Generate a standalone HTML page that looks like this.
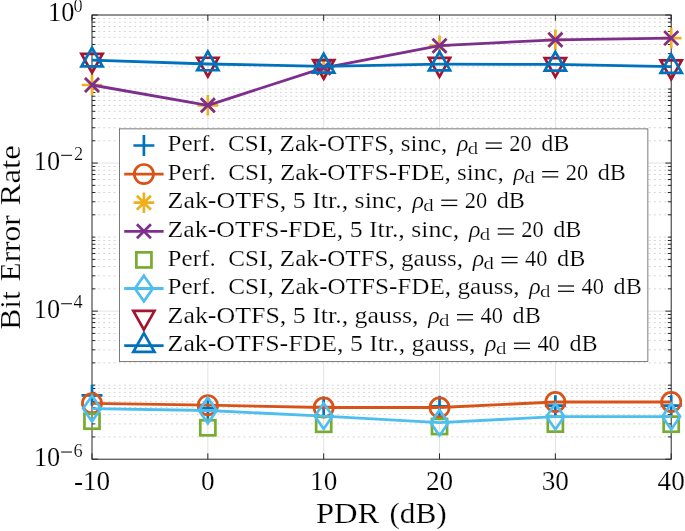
<!DOCTYPE html><html><head><meta charset="utf-8"><style>html,body{margin:0;padding:0;background:#fff;overflow:hidden;}svg{display:block;will-change:transform;}text{font-family:"Liberation Serif",serif;fill:#000;stroke:#fff;stroke-width:0.2px;paint-order:fill stroke;}</style></head><body>
<svg width="685" height="531" viewBox="0 0 685 531">
<rect width="685" height="531" fill="#fff"/>
<g stroke="#d2d2d2" stroke-width="1" stroke-dasharray="1.8 3.395">
<line x1="98.1" y1="436.91" x2="671.2" y2="436.91"/>
<line x1="98.1" y1="423.88" x2="671.2" y2="423.88"/>
<line x1="98.1" y1="414.63" x2="671.2" y2="414.63"/>
<line x1="98.1" y1="407.45" x2="671.2" y2="407.45"/>
<line x1="98.1" y1="401.59" x2="671.2" y2="401.59"/>
<line x1="98.1" y1="396.63" x2="671.2" y2="396.63"/>
<line x1="98.1" y1="392.34" x2="671.2" y2="392.34"/>
<line x1="98.1" y1="388.55" x2="671.2" y2="388.55"/>
<line x1="98.1" y1="362.88" x2="671.2" y2="362.88"/>
<line x1="98.1" y1="349.84" x2="671.2" y2="349.84"/>
<line x1="98.1" y1="340.59" x2="671.2" y2="340.59"/>
<line x1="98.1" y1="333.42" x2="671.2" y2="333.42"/>
<line x1="98.1" y1="327.56" x2="671.2" y2="327.56"/>
<line x1="98.1" y1="322.6" x2="671.2" y2="322.6"/>
<line x1="98.1" y1="318.31" x2="671.2" y2="318.31"/>
<line x1="98.1" y1="314.52" x2="671.2" y2="314.52"/>
<line x1="98.1" y1="385.17" x2="671.2" y2="385.17"/>
<line x1="98.1" y1="288.85" x2="671.2" y2="288.85"/>
<line x1="98.1" y1="275.81" x2="671.2" y2="275.81"/>
<line x1="98.1" y1="266.56" x2="671.2" y2="266.56"/>
<line x1="98.1" y1="259.39" x2="671.2" y2="259.39"/>
<line x1="98.1" y1="253.52" x2="671.2" y2="253.52"/>
<line x1="98.1" y1="248.57" x2="671.2" y2="248.57"/>
<line x1="98.1" y1="244.27" x2="671.2" y2="244.27"/>
<line x1="98.1" y1="240.49" x2="671.2" y2="240.49"/>
<line x1="98.1" y1="214.81" x2="671.2" y2="214.81"/>
<line x1="98.1" y1="201.78" x2="671.2" y2="201.78"/>
<line x1="98.1" y1="192.53" x2="671.2" y2="192.53"/>
<line x1="98.1" y1="185.35" x2="671.2" y2="185.35"/>
<line x1="98.1" y1="179.49" x2="671.2" y2="179.49"/>
<line x1="98.1" y1="174.53" x2="671.2" y2="174.53"/>
<line x1="98.1" y1="170.24" x2="671.2" y2="170.24"/>
<line x1="98.1" y1="166.45" x2="671.2" y2="166.45"/>
<line x1="98.1" y1="237.1" x2="671.2" y2="237.1"/>
<line x1="98.1" y1="140.78" x2="671.2" y2="140.78"/>
<line x1="98.1" y1="127.74" x2="671.2" y2="127.74"/>
<line x1="98.1" y1="118.49" x2="671.2" y2="118.49"/>
<line x1="98.1" y1="111.32" x2="671.2" y2="111.32"/>
<line x1="98.1" y1="105.46" x2="671.2" y2="105.46"/>
<line x1="98.1" y1="100.5" x2="671.2" y2="100.5"/>
<line x1="98.1" y1="96.21" x2="671.2" y2="96.21"/>
<line x1="98.1" y1="92.42" x2="671.2" y2="92.42"/>
<line x1="98.1" y1="66.75" x2="671.2" y2="66.75"/>
<line x1="98.1" y1="53.71" x2="671.2" y2="53.71"/>
<line x1="98.1" y1="44.46" x2="671.2" y2="44.46"/>
<line x1="98.1" y1="37.29" x2="671.2" y2="37.29"/>
<line x1="98.1" y1="31.42" x2="671.2" y2="31.42"/>
<line x1="98.1" y1="26.47" x2="671.2" y2="26.47"/>
<line x1="98.1" y1="22.17" x2="671.2" y2="22.17"/>
<line x1="98.1" y1="18.39" x2="671.2" y2="18.39"/>
<line x1="98.1" y1="89.03" x2="671.2" y2="89.03"/>
</g>
<g stroke="#e3e3e3" stroke-width="1">
<line x1="207.84" y1="15" x2="207.84" y2="459.2"/>
<line x1="323.68" y1="15" x2="323.68" y2="459.2"/>
<line x1="439.52" y1="15" x2="439.52" y2="459.2"/>
<line x1="555.36" y1="15" x2="555.36" y2="459.2"/>
<line x1="92" y1="163.07" x2="671.2" y2="163.07"/>
<line x1="92" y1="311.13" x2="671.2" y2="311.13"/>
</g>
<g stroke="#262626" stroke-width="1" fill="none">
<path d="M92 459.2V453.4M92 15V20.8M207.84 459.2V453.4M207.84 15V20.8M323.68 459.2V453.4M323.68 15V20.8M439.52 459.2V453.4M439.52 15V20.8M555.36 459.2V453.4M555.36 15V20.8M671.2 459.2V453.4M671.2 15V20.8M92 15H97.8M671.2 15H665.4M92 163.07H97.8M671.2 163.07H665.4M92 311.13H97.8M671.2 311.13H665.4M92 459.2H97.8M671.2 459.2H665.4M92 436.91H95.4M671.2 436.91H667.8M92 423.88H95.4M671.2 423.88H667.8M92 414.63H95.4M671.2 414.63H667.8M92 407.45H95.4M671.2 407.45H667.8M92 401.59H95.4M671.2 401.59H667.8M92 396.63H95.4M671.2 396.63H667.8M92 392.34H95.4M671.2 392.34H667.8M92 388.55H95.4M671.2 388.55H667.8M92 362.88H95.4M671.2 362.88H667.8M92 349.84H95.4M671.2 349.84H667.8M92 340.59H95.4M671.2 340.59H667.8M92 333.42H95.4M671.2 333.42H667.8M92 327.56H95.4M671.2 327.56H667.8M92 322.6H95.4M671.2 322.6H667.8M92 318.31H95.4M671.2 318.31H667.8M92 314.52H95.4M671.2 314.52H667.8M92 385.17H95.4M671.2 385.17H667.8M92 288.85H95.4M671.2 288.85H667.8M92 275.81H95.4M671.2 275.81H667.8M92 266.56H95.4M671.2 266.56H667.8M92 259.39H95.4M671.2 259.39H667.8M92 253.52H95.4M671.2 253.52H667.8M92 248.57H95.4M671.2 248.57H667.8M92 244.27H95.4M671.2 244.27H667.8M92 240.49H95.4M671.2 240.49H667.8M92 214.81H95.4M671.2 214.81H667.8M92 201.78H95.4M671.2 201.78H667.8M92 192.53H95.4M671.2 192.53H667.8M92 185.35H95.4M671.2 185.35H667.8M92 179.49H95.4M671.2 179.49H667.8M92 174.53H95.4M671.2 174.53H667.8M92 170.24H95.4M671.2 170.24H667.8M92 166.45H95.4M671.2 166.45H667.8M92 237.1H95.4M671.2 237.1H667.8M92 140.78H95.4M671.2 140.78H667.8M92 127.74H95.4M671.2 127.74H667.8M92 118.49H95.4M671.2 118.49H667.8M92 111.32H95.4M671.2 111.32H667.8M92 105.46H95.4M671.2 105.46H667.8M92 100.5H95.4M671.2 100.5H667.8M92 96.21H95.4M671.2 96.21H667.8M92 92.42H95.4M671.2 92.42H667.8M92 66.75H95.4M671.2 66.75H667.8M92 53.71H95.4M671.2 53.71H667.8M92 44.46H95.4M671.2 44.46H667.8M92 37.29H95.4M671.2 37.29H667.8M92 31.42H95.4M671.2 31.42H667.8M92 26.47H95.4M671.2 26.47H667.8M92 22.17H95.4M671.2 22.17H667.8M92 18.39H95.4M671.2 18.39H667.8M92 89.03H95.4M671.2 89.03H667.8"/>
<rect x="92" y="15" width="579.2" height="444.2"/>
</g>
<path d="M81.5 395.3H102.5M92 384.8V405.8" stroke="#0072BD" stroke-width="2.7" fill="none"/>
<path d="M197.34 408.2H218.34M207.84 397.7V418.7" stroke="#0072BD" stroke-width="2.7" fill="none"/>
<path d="M313.18 407H334.18M323.68 396.5V417.5" stroke="#0072BD" stroke-width="2.7" fill="none"/>
<path d="M429.02 406.3H450.02M439.52 395.8V416.8" stroke="#0072BD" stroke-width="2.7" fill="none"/>
<path d="M544.86 405.7H565.86M555.36 395.2V416.2" stroke="#0072BD" stroke-width="2.7" fill="none"/>
<path d="M660.7 405.7H681.7M671.2 395.2V416.2" stroke="#0072BD" stroke-width="2.7" fill="none"/>
<polyline points="92,403.3 207.84,405.2 323.68,407.5 439.52,407.5 555.36,402 671.2,402" stroke="#D95319" stroke-width="2.8" fill="none" stroke-linejoin="round"/>
<circle cx="92" cy="403.3" r="9.6" stroke="#D95319" stroke-width="2.7" fill="none"/>
<circle cx="207.84" cy="405.2" r="9.6" stroke="#D95319" stroke-width="2.7" fill="none"/>
<circle cx="323.68" cy="407.5" r="9.6" stroke="#D95319" stroke-width="2.7" fill="none"/>
<circle cx="439.52" cy="407.5" r="9.6" stroke="#D95319" stroke-width="2.7" fill="none"/>
<circle cx="555.36" cy="402" r="9.6" stroke="#D95319" stroke-width="2.7" fill="none"/>
<circle cx="671.2" cy="402" r="9.6" stroke="#D95319" stroke-width="2.7" fill="none"/>
<path d="M81.7 85H102.3M92 74.7V95.3M85 78L99 92M85 92L99 78" stroke="#EDB120" stroke-width="2.7" fill="none"/>
<path d="M197.54 105.3H218.14M207.84 95V115.6M200.84 98.3L214.84 112.3M200.84 112.3L214.84 98.3" stroke="#EDB120" stroke-width="2.7" fill="none"/>
<path d="M313.38 67.8H333.98M323.68 57.5V78.1M316.68 60.8L330.68 74.8M316.68 74.8L330.68 60.8" stroke="#EDB120" stroke-width="2.7" fill="none"/>
<path d="M429.22 45.7H449.82M439.52 35.4V56M432.52 38.7L446.52 52.7M432.52 52.7L446.52 38.7" stroke="#EDB120" stroke-width="2.7" fill="none"/>
<path d="M545.06 39.8H565.66M555.36 29.5V50.1M548.36 32.8L562.36 46.8M548.36 46.8L562.36 32.8" stroke="#EDB120" stroke-width="2.7" fill="none"/>
<path d="M660.9 38.1H681.5M671.2 27.8V48.4M664.2 31.1L678.2 45.1M664.2 45.1L678.2 31.1" stroke="#EDB120" stroke-width="2.7" fill="none"/>
<polyline points="92,85 207.84,105.3 323.68,67.8 439.52,45.7 555.36,39.8 671.2,38.1" stroke="#7E2F8E" stroke-width="2.8" fill="none" stroke-linejoin="round"/>
<path d="M85 78L99 92M85 92L99 78" stroke="#7E2F8E" stroke-width="2.7" fill="none"/>
<path d="M200.84 98.3L214.84 112.3M200.84 112.3L214.84 98.3" stroke="#7E2F8E" stroke-width="2.7" fill="none"/>
<path d="M316.68 60.8L330.68 74.8M316.68 74.8L330.68 60.8" stroke="#7E2F8E" stroke-width="2.7" fill="none"/>
<path d="M432.52 38.7L446.52 52.7M432.52 52.7L446.52 38.7" stroke="#7E2F8E" stroke-width="2.7" fill="none"/>
<path d="M548.36 32.8L562.36 46.8M548.36 46.8L562.36 32.8" stroke="#7E2F8E" stroke-width="2.7" fill="none"/>
<path d="M664.2 31.1L678.2 45.1M664.2 45.1L678.2 31.1" stroke="#7E2F8E" stroke-width="2.7" fill="none"/>
<rect x="84.45" y="413.65" width="15.1" height="15.1" stroke="#77AC30" stroke-width="2.7" fill="none"/>
<rect x="200.29" y="420.25" width="15.1" height="15.1" stroke="#77AC30" stroke-width="2.7" fill="none"/>
<rect x="316.13" y="416.75" width="15.1" height="15.1" stroke="#77AC30" stroke-width="2.7" fill="none"/>
<rect x="431.97" y="418.95" width="15.1" height="15.1" stroke="#77AC30" stroke-width="2.7" fill="none"/>
<rect x="547.81" y="416.55" width="15.1" height="15.1" stroke="#77AC30" stroke-width="2.7" fill="none"/>
<rect x="663.65" y="416.65" width="15.1" height="15.1" stroke="#77AC30" stroke-width="2.7" fill="none"/>
<polyline points="92,408.6 207.84,410.5 323.68,416.1 439.52,422.7 555.36,416.6 671.2,416.6" stroke="#4DBEEE" stroke-width="2.8" fill="none" stroke-linejoin="round"/>
<path d="M92 395.8L100.9 408.6L92 421.4L83.1 408.6Z" stroke="#4DBEEE" stroke-width="2.7" fill="none" stroke-miterlimit="10"/>
<path d="M207.84 397.7L216.74 410.5L207.84 423.3L198.94 410.5Z" stroke="#4DBEEE" stroke-width="2.7" fill="none" stroke-miterlimit="10"/>
<path d="M323.68 403.3L332.58 416.1L323.68 428.9L314.78 416.1Z" stroke="#4DBEEE" stroke-width="2.7" fill="none" stroke-miterlimit="10"/>
<path d="M439.52 409.9L448.42 422.7L439.52 435.5L430.62 422.7Z" stroke="#4DBEEE" stroke-width="2.7" fill="none" stroke-miterlimit="10"/>
<path d="M555.36 403.8L564.26 416.6L555.36 429.4L546.46 416.6Z" stroke="#4DBEEE" stroke-width="2.7" fill="none" stroke-miterlimit="10"/>
<path d="M671.2 403.8L680.1 416.6L671.2 429.4L662.3 416.6Z" stroke="#4DBEEE" stroke-width="2.7" fill="none" stroke-miterlimit="10"/>
<path d="M92 72.73L102.6 53.93L81.4 53.93Z" stroke="#A2142F" stroke-width="2.7" fill="none" stroke-miterlimit="10"/>
<path d="M207.84 76.53L218.44 57.73L197.24 57.73Z" stroke="#A2142F" stroke-width="2.7" fill="none" stroke-miterlimit="10"/>
<path d="M323.68 78.83L334.28 60.03L313.08 60.03Z" stroke="#A2142F" stroke-width="2.7" fill="none" stroke-miterlimit="10"/>
<path d="M439.52 76.63L450.12 57.83L428.92 57.83Z" stroke="#A2142F" stroke-width="2.7" fill="none" stroke-miterlimit="10"/>
<path d="M555.36 76.93L565.96 58.13L544.76 58.13Z" stroke="#A2142F" stroke-width="2.7" fill="none" stroke-miterlimit="10"/>
<path d="M671.2 79.23L681.8 60.43L660.6 60.43Z" stroke="#A2142F" stroke-width="2.7" fill="none" stroke-miterlimit="10"/>
<polyline points="92,60.2 207.84,64 323.68,66.3 439.52,64.1 555.36,64.4 671.2,66.7" stroke="#0072BD" stroke-width="2.8" fill="none" stroke-linejoin="round"/>
<path d="M92 47.67L102.6 66.47L81.4 66.47Z" stroke="#0072BD" stroke-width="2.7" fill="none" stroke-miterlimit="10"/>
<path d="M207.84 51.47L218.44 70.27L197.24 70.27Z" stroke="#0072BD" stroke-width="2.7" fill="none" stroke-miterlimit="10"/>
<path d="M323.68 53.77L334.28 72.57L313.08 72.57Z" stroke="#0072BD" stroke-width="2.7" fill="none" stroke-miterlimit="10"/>
<path d="M439.52 51.57L450.12 70.37L428.92 70.37Z" stroke="#0072BD" stroke-width="2.7" fill="none" stroke-miterlimit="10"/>
<path d="M555.36 51.87L565.96 70.67L544.76 70.67Z" stroke="#0072BD" stroke-width="2.7" fill="none" stroke-miterlimit="10"/>
<path d="M671.2 54.17L681.8 72.97L660.6 72.97Z" stroke="#0072BD" stroke-width="2.7" fill="none" stroke-miterlimit="10"/>
<text x="92" y="489.6" font-size="27.2" text-anchor="middle">-10</text>
<text x="207.84" y="489.6" font-size="27.2" text-anchor="middle">0</text>
<text x="323.68" y="489.6" font-size="27.2" text-anchor="middle">10</text>
<text x="439.52" y="489.6" font-size="27.2" text-anchor="middle">20</text>
<text x="555.36" y="489.6" font-size="27.2" text-anchor="middle">30</text>
<text x="671.2" y="489.6" font-size="27.2" text-anchor="middle">40</text>
<text x="48.1" y="21.2" font-size="27.2" textLength="26.3" lengthAdjust="spacingAndGlyphs">10</text>
<text x="73.6" y="12.1" font-size="18.3">0</text>
<text x="33.8" y="169.5" font-size="27.2" textLength="26.3" lengthAdjust="spacingAndGlyphs">10</text>
<rect x="61.1" y="154.8" width="10.9" height="1.05" fill="#111"/>
<text x="74.1" y="159.8" font-size="18.3">2</text>
<text x="33.8" y="317.9" font-size="27.2" textLength="26.3" lengthAdjust="spacingAndGlyphs">10</text>
<rect x="61.1" y="303.2" width="10.9" height="1.05" fill="#111"/>
<text x="73.6" y="308.4" font-size="18.3">4</text>
<text x="33.9" y="466.2" font-size="27.2" textLength="26.3" lengthAdjust="spacingAndGlyphs">10</text>
<rect x="61.1" y="451.5" width="10.9" height="1.05" fill="#111"/>
<text x="73.6" y="456.5" font-size="18.3">6</text>
<text x="315.9" y="523.4" font-size="29" textLength="63.4" lengthAdjust="spacingAndGlyphs">PDR</text>
<text x="389.4" y="523.4" font-size="29" textLength="57.4" lengthAdjust="spacingAndGlyphs">(dB)</text>
<text transform="translate(20.3 329.8) rotate(-90)" font-size="30" textLength="38.7" lengthAdjust="spacingAndGlyphs">Bit</text>
<text transform="translate(20.3 281.5) rotate(-90)" font-size="30" textLength="66.2" lengthAdjust="spacingAndGlyphs">Error</text>
<text transform="translate(20.3 205.4) rotate(-90)" font-size="30" textLength="60.1" lengthAdjust="spacingAndGlyphs">Rate</text>
<rect x="119.6" y="128.9" width="528.3" height="232.6" fill="#fff" stroke="#262626" stroke-width="0.6"/>
<path d="M133.4 145.5H154.4M143.9 135V156" stroke="#0072BD" stroke-width="2.7" fill="none"/>
<line x1="124.2" y1="174.1" x2="163.6" y2="174.1" stroke="#D95319" stroke-width="2.8"/>
<circle cx="143.9" cy="174.1" r="9.6" stroke="#D95319" stroke-width="2.7" fill="none"/>
<path d="M133.6 202.7H154.2M143.9 192.4V213M136.9 195.7L150.9 209.7M136.9 209.7L150.9 195.7" stroke="#EDB120" stroke-width="2.7" fill="none"/>
<line x1="124.2" y1="231.3" x2="163.6" y2="231.3" stroke="#7E2F8E" stroke-width="2.8"/>
<path d="M136.9 224.3L150.9 238.3M136.9 238.3L150.9 224.3" stroke="#7E2F8E" stroke-width="2.7" fill="none"/>
<rect x="136.35" y="252.35" width="15.1" height="15.1" stroke="#77AC30" stroke-width="2.7" fill="none"/>
<line x1="124.2" y1="288.5" x2="163.6" y2="288.5" stroke="#4DBEEE" stroke-width="2.8"/>
<path d="M143.9 275.7L152.8 288.5L143.9 301.3L135 288.5Z" stroke="#4DBEEE" stroke-width="2.7" fill="none" stroke-miterlimit="10"/>
<path d="M143.9 329.63L154.5 310.83L133.3 310.83Z" stroke="#A2142F" stroke-width="2.7" fill="none" stroke-miterlimit="10"/>
<line x1="124.2" y1="345.7" x2="163.6" y2="345.7" stroke="#0072BD" stroke-width="2.8"/>
<path d="M143.9 333.17L154.5 351.97L133.3 351.97Z" stroke="#0072BD" stroke-width="2.7" fill="none" stroke-miterlimit="10"/>
<text x="167.6" y="151.2" font-size="23.8" textLength="279.7" lengthAdjust="spacingAndGlyphs">Perf. CSI, Zak-OTFS, sinc,</text>
<text x="456.9" y="151.2" font-size="23.8" font-style="italic">ρ</text>
<text x="467.8" y="154.1" font-size="17.2" textLength="10.4" lengthAdjust="spacingAndGlyphs">d</text>
<rect x="485.7" y="142.4" width="16.1" height="1.2" fill="#000"/>
<rect x="485.7" y="147.7" width="16.1" height="1.2" fill="#000"/>
<text x="509.2" y="151.2" font-size="23.8" textLength="22.4" lengthAdjust="spacingAndGlyphs">20</text>
<text x="541.3" y="151.2" font-size="23.8" textLength="28.2" lengthAdjust="spacingAndGlyphs">dB</text>
<text x="167.6" y="179.8" font-size="23.8" textLength="336.2" lengthAdjust="spacingAndGlyphs">Perf. CSI, Zak-OTFS-FDE, sinc,</text>
<text x="513.4" y="179.8" font-size="23.8" font-style="italic">ρ</text>
<text x="524.3" y="182.7" font-size="17.2" textLength="10.4" lengthAdjust="spacingAndGlyphs">d</text>
<rect x="542.2" y="171" width="16.1" height="1.2" fill="#000"/>
<rect x="542.2" y="176.3" width="16.1" height="1.2" fill="#000"/>
<text x="565.7" y="179.8" font-size="23.8" textLength="22.4" lengthAdjust="spacingAndGlyphs">20</text>
<text x="597.8" y="179.8" font-size="23.8" textLength="28.2" lengthAdjust="spacingAndGlyphs">dB</text>
<text x="167.6" y="208.4" font-size="23.8" textLength="235.2" lengthAdjust="spacingAndGlyphs">Zak-OTFS, 5 Itr., sinc,</text>
<text x="412.4" y="208.4" font-size="23.8" font-style="italic">ρ</text>
<text x="423.3" y="211.3" font-size="17.2" textLength="10.4" lengthAdjust="spacingAndGlyphs">d</text>
<rect x="441.2" y="199.6" width="16.1" height="1.2" fill="#000"/>
<rect x="441.2" y="204.9" width="16.1" height="1.2" fill="#000"/>
<text x="464.7" y="208.4" font-size="23.8" textLength="22.4" lengthAdjust="spacingAndGlyphs">20</text>
<text x="496.8" y="208.4" font-size="23.8" textLength="28.2" lengthAdjust="spacingAndGlyphs">dB</text>
<text x="167.6" y="237" font-size="23.8" textLength="291.7" lengthAdjust="spacingAndGlyphs">Zak-OTFS-FDE, 5 Itr., sinc,</text>
<text x="468.9" y="237" font-size="23.8" font-style="italic">ρ</text>
<text x="479.8" y="239.9" font-size="17.2" textLength="10.4" lengthAdjust="spacingAndGlyphs">d</text>
<rect x="497.7" y="228.2" width="16.1" height="1.2" fill="#000"/>
<rect x="497.7" y="233.5" width="16.1" height="1.2" fill="#000"/>
<text x="521.2" y="237" font-size="23.8" textLength="22.4" lengthAdjust="spacingAndGlyphs">20</text>
<text x="553.3" y="237" font-size="23.8" textLength="28.2" lengthAdjust="spacingAndGlyphs">dB</text>
<text x="167.6" y="265.6" font-size="23.8" textLength="295.5" lengthAdjust="spacingAndGlyphs">Perf. CSI, Zak-OTFS, gauss,</text>
<text x="472.7" y="265.6" font-size="23.8" font-style="italic">ρ</text>
<text x="483.6" y="268.5" font-size="17.2" textLength="10.4" lengthAdjust="spacingAndGlyphs">d</text>
<rect x="501.5" y="256.8" width="16.1" height="1.2" fill="#000"/>
<rect x="501.5" y="262.1" width="16.1" height="1.2" fill="#000"/>
<text x="525" y="265.6" font-size="23.8" textLength="22.4" lengthAdjust="spacingAndGlyphs">40</text>
<text x="557.1" y="265.6" font-size="23.8" textLength="28.2" lengthAdjust="spacingAndGlyphs">dB</text>
<text x="167.6" y="294.2" font-size="23.8" textLength="352" lengthAdjust="spacingAndGlyphs">Perf. CSI, Zak-OTFS-FDE, gauss,</text>
<text x="529.2" y="294.2" font-size="23.8" font-style="italic">ρ</text>
<text x="540.1" y="297.1" font-size="17.2" textLength="10.4" lengthAdjust="spacingAndGlyphs">d</text>
<rect x="558" y="285.4" width="16.1" height="1.2" fill="#000"/>
<rect x="558" y="290.7" width="16.1" height="1.2" fill="#000"/>
<text x="581.5" y="294.2" font-size="23.8" textLength="22.4" lengthAdjust="spacingAndGlyphs">40</text>
<text x="613.6" y="294.2" font-size="23.8" textLength="28.2" lengthAdjust="spacingAndGlyphs">dB</text>
<text x="167.6" y="322.8" font-size="23.8" textLength="251" lengthAdjust="spacingAndGlyphs">Zak-OTFS, 5 Itr., gauss,</text>
<text x="428.2" y="322.8" font-size="23.8" font-style="italic">ρ</text>
<text x="439.1" y="325.7" font-size="17.2" textLength="10.4" lengthAdjust="spacingAndGlyphs">d</text>
<rect x="457" y="314" width="16.1" height="1.2" fill="#000"/>
<rect x="457" y="319.3" width="16.1" height="1.2" fill="#000"/>
<text x="480.5" y="322.8" font-size="23.8" textLength="22.4" lengthAdjust="spacingAndGlyphs">40</text>
<text x="512.6" y="322.8" font-size="23.8" textLength="28.2" lengthAdjust="spacingAndGlyphs">dB</text>
<text x="167.6" y="351.4" font-size="23.8" textLength="307.9" lengthAdjust="spacingAndGlyphs">Zak-OTFS-FDE, 5 Itr., gauss,</text>
<text x="485.1" y="351.4" font-size="23.8" font-style="italic">ρ</text>
<text x="496" y="354.3" font-size="17.2" textLength="10.4" lengthAdjust="spacingAndGlyphs">d</text>
<rect x="513.9" y="342.6" width="16.1" height="1.2" fill="#000"/>
<rect x="513.9" y="347.9" width="16.1" height="1.2" fill="#000"/>
<text x="537.4" y="351.4" font-size="23.8" textLength="22.4" lengthAdjust="spacingAndGlyphs">40</text>
<text x="569.5" y="351.4" font-size="23.8" textLength="28.2" lengthAdjust="spacingAndGlyphs">dB</text>
</svg></body></html>
